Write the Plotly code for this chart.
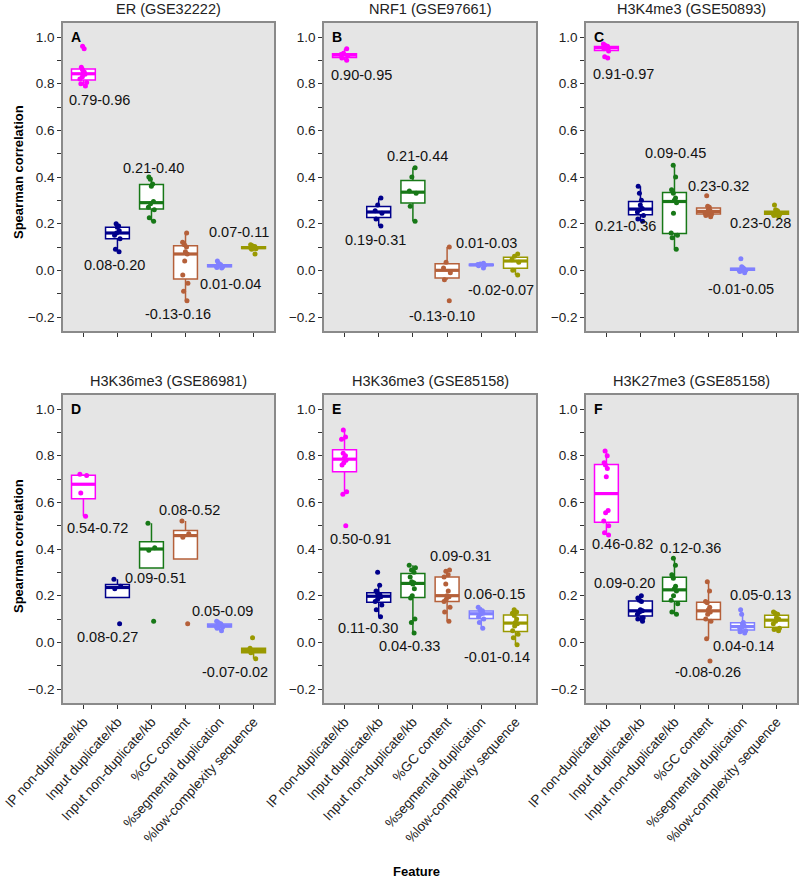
import numpy as np
import plotly.graph_objects as go

features = ["IP non-duplicate/kb", "Input duplicate/kb", "Input non-duplicate/kb",
            "%GC content", "%segmental duplication", "%low-complexity sequence"]
colors = ["#FF00FF", "#00008B", "#177817", "#B5603A", "#8080FF", "#999900"]
panel_titles = ["ER (GSE32222)", "NRF1 (GSE97661)", "H3K4me3 (GSE50893)",
                "H3K36me3 (GSE86981)", "H3K36me3 (GSE85158)", "H3K27me3 (GSE85158)"]
panel_letters = ["A", "B", "C", "D", "E", "F"]

# ---- Spearman correlations per panel (one list per feature) ----
er_values = [
    [0.79, 0.80, 0.805, 0.82, 0.83, 0.84, 0.845, 0.85, 0.86, 0.87, 0.95, 0.96],
    [0.08, 0.09, 0.135, 0.15, 0.16, 0.17, 0.185, 0.19, 0.20],
    [0.21, 0.225, 0.26, 0.27, 0.285, 0.295, 0.36, 0.37, 0.39, 0.40],
    [-0.13, -0.09, -0.055, -0.02, 0.04, 0.07, 0.08, 0.10, 0.11, 0.12, 0.16],
    [0.01, 0.012, 0.015, 0.018, 0.02, 0.02, 0.022, 0.025, 0.03, 0.04],
    [0.07, 0.09, 0.093, 0.095, 0.097, 0.098, 0.10, 0.102, 0.105, 0.11],
]
nrf1_values = [
    [0.90, 0.91, 0.92, 0.925, 0.93, 0.95],
    [0.19, 0.22, 0.245, 0.255, 0.28, 0.31],
    [0.21, 0.275, 0.33, 0.34, 0.40, 0.44],
    [-0.13, -0.04, -0.01, 0.01, 0.035, 0.10],
    [0.01, 0.02, 0.022, 0.025, 0.027, 0.03],
    [-0.02, 0.0, 0.035, 0.045, 0.06, 0.07],
]
h3k4_values = [
    [0.91, 0.915, 0.94, 0.95, 0.953, 0.955, 0.958, 0.96, 0.965, 0.97],
    [0.21, 0.22, 0.235, 0.25, 0.26, 0.265, 0.28, 0.30, 0.33, 0.36],
    [0.09, 0.14, 0.15, 0.16, 0.245, 0.29, 0.30, 0.31, 0.33, 0.345, 0.40, 0.45],
    [0.23, 0.235, 0.24, 0.245, 0.25, 0.255, 0.26, 0.27, 0.275, 0.32],
    [-0.01, -0.005, 0.0, 0.0, 0.003, 0.005, 0.007, 0.01, 0.015, 0.05],
    [0.23, 0.235, 0.24, 0.242, 0.245, 0.248, 0.25, 0.255, 0.26, 0.28],
]
h3k36a_values = [
    [0.54, 0.64, 0.715, 0.72],
    [0.08, 0.23, 0.24, 0.27],
    [0.09, 0.395, 0.405, 0.51],
    [0.08, 0.45, 0.465, 0.52],
    [0.05, 0.06, 0.065, 0.068, 0.07, 0.072, 0.075, 0.08, 0.085, 0.09],
    [-0.07, -0.045, -0.035, -0.025, 0.02],
]
h3k36b_values = [
    [0.50, 0.635, 0.645, 0.76, 0.77, 0.78, 0.79, 0.80, 0.81, 0.87, 0.88, 0.91],
    [0.11, 0.14, 0.16, 0.175, 0.185, 0.195, 0.20, 0.205, 0.21, 0.22, 0.245, 0.30],
    [0.04, 0.085, 0.10, 0.19, 0.20, 0.23, 0.25, 0.255, 0.26, 0.28, 0.30, 0.31, 0.32, 0.33],
    [0.09, 0.13, 0.15, 0.175, 0.185, 0.195, 0.20, 0.22, 0.25, 0.28, 0.29, 0.305, 0.31],
    [0.06, 0.085, 0.10, 0.11, 0.12, 0.125, 0.13, 0.135, 0.14, 0.15],
    [-0.01, 0.02, 0.035, 0.05, 0.07, 0.08, 0.085, 0.10, 0.115, 0.125, 0.13, 0.14],
]
h3k27_values = [
    [0.46, 0.47, 0.50, 0.52, 0.555, 0.565, 0.71, 0.745, 0.76, 0.77, 0.80, 0.82],
    [0.09, 0.10, 0.105, 0.12, 0.13, 0.135, 0.14, 0.175, 0.18, 0.19, 0.20],
    [0.12, 0.13, 0.165, 0.18, 0.20, 0.22, 0.23, 0.24, 0.275, 0.29, 0.33, 0.36],
    [-0.08, 0.015, 0.09, 0.10, 0.12, 0.13, 0.14, 0.15, 0.17, 0.175, 0.22, 0.26],
    [0.04, 0.045, 0.05, 0.06, 0.065, 0.07, 0.08, 0.085, 0.12, 0.14],
    [0.05, 0.055, 0.06, 0.08, 0.09, 0.10, 0.105, 0.12, 0.125, 0.13],
]

# ---- range labels (text) ----
er_labels = ["0.79-0.96", "0.08-0.20", "0.21-0.40", "-0.13-0.16", "0.01-0.04", "0.07-0.11"]
nrf1_labels = ["0.90-0.95", "0.19-0.31", "0.21-0.44", "-0.13-0.10", "0.01-0.03", "-0.02-0.07"]
h3k4_labels = ["0.91-0.97", "0.21-0.36", "0.09-0.45", "0.23-0.32", "-0.01-0.05", "0.23-0.28"]
h3k36a_labels = ["0.54-0.72", "0.08-0.27", "0.09-0.51", "0.08-0.52", "0.05-0.09", "-0.07-0.02"]
h3k36b_labels = ["0.50-0.91", "0.11-0.30", "0.04-0.33", "0.09-0.31", "0.06-0.15", "-0.01-0.14"]
h3k27_labels = ["0.46-0.82", "0.09-0.20", "0.12-0.36", "-0.08-0.26", "0.04-0.14", "0.05-0.13"]

# label placement (layout, in axis units)
er_label_pos = [(1.46, 0.73), (1.90, 0.023), (3.06, 0.437), (3.79, -0.187), (5.33, -0.059), (5.56, 0.164)]
nrf1_label_pos = [(1.49, 0.837), (1.90, 0.13), (3.14, 0.49), (3.85, -0.196), (5.15, 0.116), (5.59, -0.084)]
h3k4_label_pos = [(1.49, 0.84), (1.55, 0.19), (3.03, 0.504), (4.29, 0.361), (4.94, -0.081), (5.53, 0.204)]
h3k36a_label_pos = [(1.42, 0.49), (1.70, 0.023), (3.13, 0.274), (4.12, 0.567), (5.09, 0.135), (5.44, -0.126)]
h3k36b_label_pos = [(1.46, 0.441), (1.70, 0.06), (2.91, -0.016), (4.38, 0.37), (5.39, 0.207), (5.47, -0.064)]
h3k27_label_pos = [(1.46, 0.42), (1.52, 0.253), (3.47, 0.403), (3.97, -0.126), (5.03, -0.016), (5.53, 0.203)]

y_tickvals = [-0.2, 0.0, 0.2, 0.4, 0.6, 0.8, 1.0]
y_ticktext = ["\u22120.2", "0.0", "0.2", "0.4", "0.6", "0.8", "1.0"]
y_minor = [-0.1, 0.1, 0.3, 0.5, 0.7, 0.9]

panel_values = [er_values, nrf1_values, h3k4_values, h3k36a_values, h3k36b_values, h3k27_values]
panel_labels = [er_labels, nrf1_labels, h3k4_labels, h3k36a_labels, h3k36b_labels, h3k27_labels]
panel_label_pos = [er_label_pos, nrf1_label_pos, h3k4_label_pos, h3k36a_label_pos, h3k36b_label_pos, h3k27_label_pos]

W, H = 800, 881
col_px = [(63, 274), (324, 536), (586, 797)]
row_px = [(23, 331), (395, 703)]
FONT = "Liberation Sans, Arial, sans-serif"
BOXW = 0.7


def px_x(v):
    return v / W


def px_y(v):
    return 1 - v / H


def box_stats(vals):
    """Tukey box statistics (quantile type 7, 1.5*IQR whiskers)."""
    a = np.asarray(vals, dtype=float)
    q1, med, q3 = np.percentile(a, [25, 50, 75])
    iqr = q3 - q1
    lo = a[a >= q1 - 1.5 * iqr].min()
    hi = a[a <= q3 + 1.5 * iqr].max()
    return q1, med, q3, min(lo, q1), max(hi, q3)


fig = go.Figure()
annotations = []
layout_axes = {}

for p in range(6):
    r, c = divmod(p, 3)
    n = p + 1
    xname = "x" if n == 1 else f"x{n}"
    yname = "y" if n == 1 else f"y{n}"
    for i, vals in enumerate(panel_values[p]):
        xpos = i + 1
        q1, med, q3, lf, uf = box_stats(vals)
        fig.add_trace(go.Box(
            x=[xpos], q1=[q1], median=[med], q3=[q3],
            lowerfence=[lf], upperfence=[uf],
            xaxis=xname, yaxis=yname, width=BOXW,
            boxpoints=False, fillcolor="white", whiskerwidth=0,
            line=dict(color=colors[i], width=1.5),
            showlegend=False, hoverinfo="skip"))
        fig.add_trace(go.Scatter(
            x=[xpos - BOXW / 2, xpos + BOXW / 2], y=[med, med], mode="lines",
            xaxis=xname, yaxis=yname, line=dict(color=colors[i], width=3.2),
            showlegend=False, hoverinfo="skip"))
        fig.add_trace(go.Box(
            x=[xpos] * len(vals), y=vals, xaxis=xname, yaxis=yname, width=BOXW,
            boxpoints="all", jitter=0.35, pointpos=0,
            fillcolor="rgba(0,0,0,0)", whiskerwidth=0,
            line=dict(color="rgba(0,0,0,0)", width=0),
            marker=dict(color=colors[i], size=5),
            showlegend=False, hoverinfo="skip"))

    for txt, (lx, ly) in zip(panel_labels[p], panel_label_pos[p]):
        annotations.append(dict(
            x=lx, y=ly, xref=xname, yref=yname, text=txt, showarrow=False,
            xanchor="center", yanchor="middle",
            font=dict(family=FONT, size=14.5, color="#111111")))

    annotations.append(dict(
        x=0.58, y=1.0, xref=xname, yref=yname, text=f"<b>{panel_letters[p]}</b>",
        showarrow=False, xanchor="left", yanchor="middle",
        font=dict(family=FONT, size=14, color="#000000")))

    x0, x1 = col_px[c]
    y0, y1 = row_px[r]
    annotations.append(dict(
        x=px_x((x0 + x1) / 2), y=px_y(y0 - 14), xref="paper", yref="paper",
        text=panel_titles[p], showarrow=False, xanchor="center", yanchor="middle",
        font=dict(family=FONT, size=14.5, color="#222222")))

    layout_axes["xaxis" if n == 1 else f"xaxis{n}"] = dict(
        domain=[px_x(x0), px_x(x1)], range=[0.4, 6.6], anchor=yname,
        tickmode="array", tickvals=[1, 2, 3, 4, 5, 6],
        ticktext=features, showticklabels=(r == 1), tickangle=-48,
        ticklabeloverflow="allow",
        ticks="outside", ticklen=4, tickwidth=1, tickcolor="#333333",
        tickfont=dict(family=FONT, size=13.5, color="#222222"),
        showgrid=False, zeroline=False, showline=True, mirror=True,
        linecolor="#8a8a8a", linewidth=1.5, automargin=False, fixedrange=True)
    layout_axes["yaxis" if n == 1 else f"yaxis{n}"] = dict(
        domain=[px_y(y1), px_y(y0)], range=[-0.26, 1.06], anchor=xname,
        tickmode="array", tickvals=y_tickvals, ticktext=y_ticktext,
        ticklabeloverflow="allow",
        ticks="outside", ticklen=4, tickwidth=1, tickcolor="#333333",
        minor=dict(tickmode="array", tickvals=y_minor, ticks="outside",
                   ticklen=4, tickwidth=1, tickcolor="#333333", showgrid=False),
        tickfont=dict(family=FONT, size=13.5, color="#222222"),
        showgrid=False, zeroline=False, showline=True, mirror=True,
        linecolor="#8a8a8a", linewidth=1.5, automargin=False, fixedrange=True)

# y axis titles (left column) and x axis title
for yc in [172, 546]:
    annotations.append(dict(
        x=px_x(18), y=px_y(yc), xref="paper", yref="paper",
        text="<b>Spearman correlation</b>", textangle=-90, showarrow=False,
        xanchor="center", yanchor="middle",
        font=dict(family=FONT, size=13, color="#000000")))
annotations.append(dict(
    x=px_x(416), y=px_y(871), xref="paper", yref="paper", text="<b>Feature</b>",
    showarrow=False, xanchor="center", yanchor="middle",
    font=dict(family=FONT, size=13, color="#000000")))

fig.update_layout(
    width=W, height=H, margin=dict(l=0, r=0, t=0, b=0),
    paper_bgcolor="white", plot_bgcolor="#E5E5E5",
    boxmode="overlay", showlegend=False,
    font=dict(family=FONT, size=14, color="#222222"),
    annotations=annotations, **layout_axes)

# remove the browser's default 8px page margin so the figure fills the window
fig.write_html("out.html",
               config={"displayModeBar": False},
               post_script="document.body.style.margin='0px';"
                           "document.body.style.overflow='hidden';")
